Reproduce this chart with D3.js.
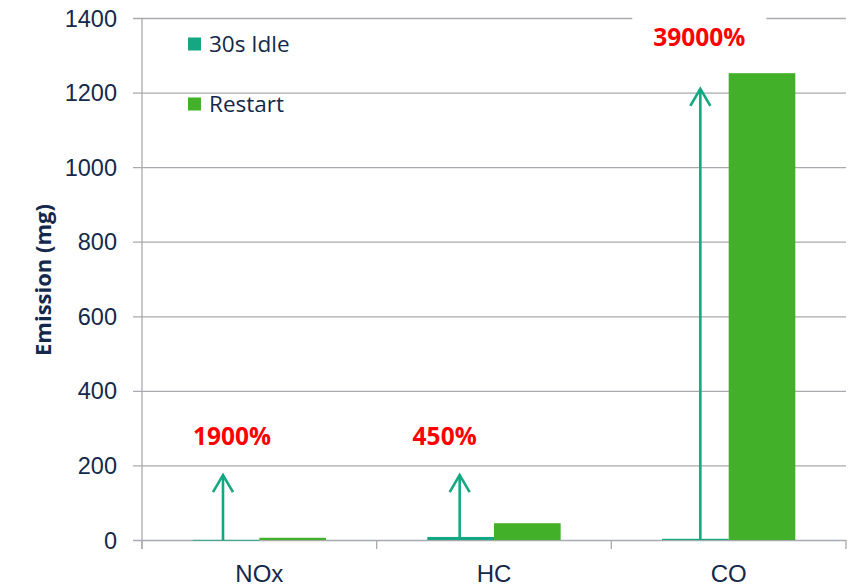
<!DOCTYPE html>
<html>
<head>
<meta charset="utf-8">
<script src="https://cdn.jsdelivr.net/npm/d3@7/dist/d3.min.js"></script>
<style>
  html, body { margin: 0; padding: 0; background: #fff; }
  svg { display: block; font-family: "Open Sans", "Noto Sans", sans-serif; }
</style>
</head>
<body>
<svg id="chart" width="856" height="586"></svg>
<script>
// Emissions per pollutant: 30 s idle vs. engine restart (mg)
const categories = ["NOx", "HC", "CO"];
const seriesNames = ["30s Idle", "Restart"];
const idleValues = [0.3, 8.2, 3.2];
const restartValues = [6, 45, 1252];
const yTicks = [0, 200, 400, 600, 800, 1000, 1200, 1400];

// Increase annotations: label text, arrow tip (mg) and label baseline (mg)
const increaseLabels = ["1900%", "450%", "39000%"];
const arrowTips = [174, 174, 1210];
const labelLevels = [255, 255, 1325];

const colors = { "30s Idle": "#13a882", "Restart": "#43b02a" };
const textColor = "#14284b";
const gridColor = "#a9aaae";

const svg = d3.select("#chart");
const plot = { left: 142, right: 846, top: 18, bottom: 540 };

const x0 = d3.scaleBand().domain(categories).range([plot.left, plot.right]).padding(0);
const x1 = d3.scaleBand().domain(seriesNames).range([0, x0.bandwidth()])
  .paddingInner(0).paddingOuter(0.76);
const y = d3.scaleLinear().domain([0, 1400]).range([plot.bottom, plot.top]);

// Gridlines with short outside ticks
const yAxis = d3.axisLeft(y).tickValues(yTicks)
  .tickSize(-(plot.right - plot.left)).tickSizeOuter(0).tickPadding(16)
  .tickFormat(d3.format("d"));
const gy = svg.append("g").attr("transform", `translate(${plot.left},0)`).call(yAxis);
gy.select(".domain").remove();
gy.selectAll(".tick line").attr("x1", -9).attr("stroke", gridColor).attr("stroke-width", 1.3);
gy.selectAll(".tick text").attr("fill", textColor).style("font-size", "23.5px")
  .attr("x", -25).attr("dy", "0.34em");

// Vertical axis line
svg.append("line")
  .attr("x1", plot.left).attr("x2", plot.left)
  .attr("y1", plot.top).attr("y2", plot.bottom + 9)
  .attr("stroke", gridColor).attr("stroke-width", 1.3);

// Category axis
const xAxis = d3.axisBottom(x0).tickSize(0).tickPadding(25);
const gx = svg.append("g").attr("transform", `translate(0,${plot.bottom})`).call(xAxis);
gx.select(".domain").remove();
gx.selectAll(".tick text").attr("fill", textColor).style("font-size", "24px");
const boundaries = categories.map(c => x0(c)).concat([plot.right]);
svg.append("g").selectAll("line").data(boundaries).join("line")
  .attr("x1", d => d).attr("x2", d => d)
  .attr("y1", plot.bottom).attr("y2", plot.bottom + 9)
  .attr("stroke", gridColor).attr("stroke-width", 1.3);

// Bars
const rows = categories.map((c, i) => ({
  category: c,
  values: [
    { series: "30s Idle", value: idleValues[i] },
    { series: "Restart", value: restartValues[i] }
  ]
}));
svg.append("g").selectAll("g").data(rows).join("g")
  .attr("transform", d => `translate(${x0(d.category)},0)`)
  .selectAll("rect").data(d => d.values).join("rect")
  .attr("x", d => x1(d.series))
  .attr("width", x1.bandwidth())
  .attr("y", d => y(d.value))
  .attr("height", d => Math.max(0.8, y(0) - y(d.value)))
  .attr("fill", d => colors[d.series]);

// Increase arrows and labels (hand-placed offsets around the idle bar centre)
const arrowShift = { NOx: -3, HC: -1, CO: 5 };
const labelShift = { NOx: 9, HC: -15, CO: -1 };
const annos = categories.map((c, i) => ({
  category: c,
  text: increaseLabels[i],
  tip: arrowTips[i],
  level: labelLevels[i],
  cx: x0(c) + x1("30s Idle") + x1.bandwidth() / 2 + arrowShift[c]
}));
const ag = svg.append("g");
annos.forEach(a => {
  const tipY = y(a.tip);
  ag.append("line")
    .attr("x1", a.cx).attr("x2", a.cx)
    .attr("y1", y(0)).attr("y2", tipY + 1)
    .attr("stroke", colors["30s Idle"]).attr("stroke-width", 2.6);
  ag.append("path")
    .attr("d", `M${a.cx - 10},${tipY + 17} L${a.cx},${tipY} L${a.cx + 10},${tipY + 17}`)
    .attr("fill", "none").attr("stroke", colors["30s Idle"]).attr("stroke-width", 2.6)
    .attr("stroke-linejoin", "miter");
  const label = ag.append("text")
    .attr("x", a.cx + labelShift[a.category]).attr("y", y(a.level))
    .attr("text-anchor", "middle")
    .attr("fill", "#ff0000")
    .style("font-size", "24.5px").style("font-weight", "bold")
    .text(a.text);
  if (a.category === "CO") {
    const bb = label.node().getBBox();
    ag.insert("rect", () => label.node())
      .attr("x", bb.x - 21).attr("y", bb.y - 14)
      .attr("width", bb.width + 42).attr("height", bb.height + 28)
      .attr("fill", "#fff");
  }
});

// Legend
const lg = svg.append("g").attr("transform", "translate(188,0)");
const legendRows = [{ name: "30s Idle", cy: 44 }, { name: "Restart", cy: 104 }];
legendRows.forEach(r => {
  lg.append("rect").attr("x", 0).attr("y", r.cy - 6.5).attr("width", 13).attr("height", 13)
    .attr("fill", colors[r.name]);
  lg.append("text").attr("x", 21).attr("y", r.cy).attr("dy", "0.35em")
    .attr("fill", textColor).style("font-size", "22.5px").text(r.name);
});

// Axis title
svg.append("text")
  .attr("transform", "translate(43,280) rotate(-90)")
  .attr("text-anchor", "middle").attr("dy", "0.35em")
  .attr("fill", textColor)
  .style("font-size", "22px").style("font-weight", "bold")
  .text("Emission (mg)");
</script>
</body>
</html>
